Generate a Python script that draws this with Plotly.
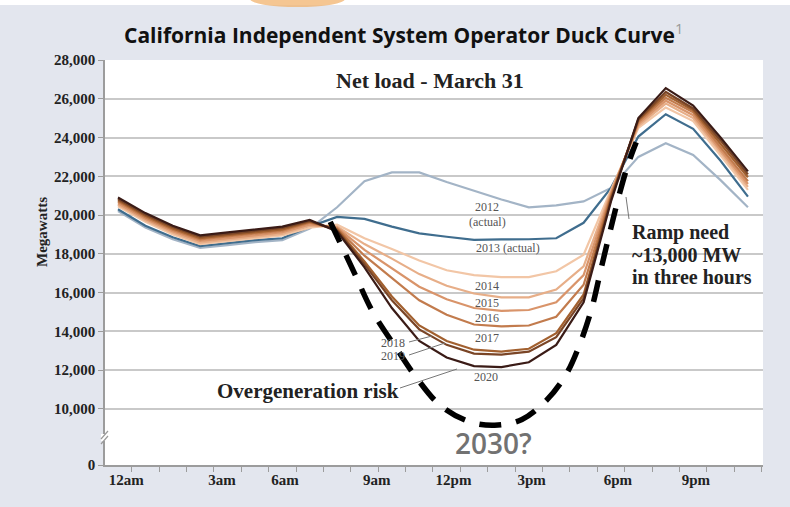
import plotly.graph_objects as go

# ---------------- data ----------------
hours = list(range(24))

hour_labels = ["12am", "3am", "6am", "9am", "12pm", "3pm", "6pm", "9pm"]
hour_label_pos = [0.3, 3.8, 6.1, 9.45, 12.25, 15.1, 18.25, 21.1]

y_tick_values = [7100, 10000, 12000, 14000, 16000, 18000, 20000, 22000, 24000, 26000, 28000]
y_tick_text = ["0", "10,000", "12,000", "14,000", "16,000", "18,000", "20,000",
               "22,000", "24,000", "26,000", "28,000"]

load_2012 = [20200, 19350, 18750, 18300, 18450, 18600, 18700, 19300, 20400, 21750, 22200, 22200,
             21700, 21250, 20800, 20400, 20500, 20700, 21400, 23000, 23700, 23100, 21800, 20400]
load_2013 = [20300, 19450, 18850, 18400, 18550, 18700, 18800, 19400, 19900, 19800, 19400, 19050,
             18880, 18720, 18740, 18750, 18800, 19600, 21400, 24050, 25200, 24450, 22800, 20950]
load_2014 = [20450, 19650, 19000, 18500, 18650, 18800, 18950, 19350, 19500, 18800, 18250, 17650,
             17150, 16900, 16800, 16800, 17100, 17950, 21300, 24500, 25550, 24850, 23050, 21300]
load_2015 = [20530, 19730, 19080, 18580, 18730, 18880, 19030, 19450, 19400, 18500, 17750, 16950,
             16350, 15950, 15750, 15750, 16150, 17350, 21200, 24600, 25750, 25000, 23200, 21450]
load_2016 = [20610, 19810, 19160, 18660, 18810, 18960, 19110, 19520, 19350, 18200, 17250, 16300,
             15650, 15200, 15050, 15100, 15500, 16900, 21100, 24700, 25900, 25150, 23350, 21600]
load_2017 = [20690, 19890, 19240, 18740, 18890, 19040, 19190, 19600, 19300, 17900, 16750, 15600,
             14850, 14350, 14250, 14300, 14750, 16400, 21000, 24800, 26050, 25300, 23500, 21750]
load_2018 = [20760, 19960, 19310, 18810, 18960, 19110, 19260, 19650, 19250, 17600, 15800, 14300,
             13500, 13050, 12950, 13100, 13900, 15900, 20900, 24900, 26200, 25400, 23700, 21950]
load_2019 = [20830, 20030, 19380, 18880, 19030, 19180, 19330, 19700, 19200, 17450, 15600, 14100,
             13300, 12850, 12800, 12950, 13700, 15700, 20800, 24950, 26350, 25500, 23850, 22100]
load_2020 = [20900, 20100, 19450, 18950, 19100, 19250, 19400, 19750, 19150, 17300, 15200, 13500,
             12650, 12200, 12150, 12400, 13300, 15500, 20700, 25000, 26550, 25650, 24000, 22250]

series_names = ["2012", "2013", "2014", "2015", "2016", "2017", "2018", "2019", "2020"]
series_values = [load_2012, load_2013, load_2014, load_2015, load_2016,
                 load_2017, load_2018, load_2019, load_2020]
series_colors = ["#a3b4c6", "#3f6d8e", "#f2c6a6", "#e7ae88", "#d9946a", "#c27b4d",
                 "#a2602f", "#7a4526", "#3a1b16"]

# hand-drawn "2030?" duck overlay (hour, MW)
overlay_hours = [7.75, 8.15, 8.65, 9.3, 10.15, 10.9, 11.75, 12.8, 13.75, 14.75, 15.65, 16.35,
                 16.85, 17.3, 17.65, 18.0, 18.33, 18.62, 18.92]
overlay_mw = [19650, 18450, 16950, 15000, 13150, 11600, 10200, 9350, 9150, 9450, 10450, 11750,
              13300, 15200, 17300, 19350, 21200, 22600, 23750]

# ---------------- figure ----------------
W, H = 790, 507
L, R, T, B = 105, 27, 60, 42
PW, PH = W - L - R, H - T - B


def px(x):
    return (x - L) / PW


def py(y):
    return (H - B - y) / PH


BG = "#e3e6ee"
GRID = "#c9c9c9"
AXIS = "#9c9c9c"
SERIF = "Liberation Serif"

fig = go.Figure()
for name, vals, col in zip(series_names, series_values, series_colors):
    fig.add_trace(go.Scatter(x=hours, y=vals, mode="lines", name=name,
                             line=dict(color=col, width=2.2), hoverinfo="skip"))

fig.add_trace(go.Scatter(x=overlay_hours, y=overlay_mw, mode="lines", name="2030?",
                         line=dict(color="#000000", width=5.5, dash="22px,15px", shape="spline"),
                         hoverinfo="skip"))

ann = []


def text(x, y, s, size, color="#222222", family=SERIF, xanchor="center", angle=0, weight=None):
    f = dict(family=family, size=size, color=color)
    if weight is not None:
        f["weight"] = weight
    ann.append(dict(x=px(x), y=py(y), xref="paper", yref="paper", text=s, showarrow=False,
                    xanchor=xanchor, yanchor="middle", textangle=angle, font=f))


text(403, 33, "<b>California Independent System Operator Duck Curve</b>"
     "<sup><span style='color:#999999'>1</span></sup>", 21, "#111111", "Open Sans")
text(430, 80, "<b>Net load - March 31</b>", 22)
text(42, 232, "<b>Megawatts</b>", 15, angle=-90)

small = "#555555"
text(487, 207, "2012", 12, small)
text(487, 222, "(actual)", 12, small)
text(508, 248, "2013 (actual)", 12, small)
text(487, 286, "2014", 12, small)
text(487, 303, "2015", 12, small)
text(487, 318, "2016", 12, small)
text(487, 338, "2017", 12, small)
text(393, 343, "2018", 12, small)
text(393, 356, "2019", 12, small)
text(486, 377, "2020", 12, small)

text(308, 391, "<b>Overgeneration risk</b>", 21)
text(630, 232, "<b>Ramp need</b>", 20, xanchor="left")
text(630, 255, "<b>~13,000 MW</b>", 20, xanchor="left")
text(630, 277, "<b>in three hours</b>", 20, xanchor="left")
text(493, 443, "2030?", 28, "#727272", "Open Sans", weight=600)

shapes = []


def seg(x0, y0, x1, y1, color="#777777", width=1):
    shapes.append(dict(type="line", xref="paper", yref="paper", x0=px(x0), y0=py(y0),
                       x1=px(x1), y1=py(y1), line=dict(color=color, width=width)))


# leader lines
seg(409, 342, 432, 336)
seg(409, 355, 445, 343)
seg(400, 388, 457, 369)
seg(626, 197, 629, 219)

# top white strip + orange glow artifact
shapes.append(dict(type="rect", xref="paper", yref="paper", x0=px(-5), x1=px(800),
                   y0=py(5), y1=py(-5), fillcolor="#ffffff", line=dict(width=0), layer="below"))
shapes.append(dict(type="circle", xref="paper", yref="paper", x0=px(250), x1=px(345),
                   y0=py(7), y1=py(-9), fillcolor="#f2b36e", opacity=0.75, line=dict(width=0)))

# axis break mark
shapes.append(dict(type="rect", xref="paper", yref="paper", x0=px(101), x1=px(109),
                   y0=py(441), y1=py(434), fillcolor="#ffffff", line=dict(width=0)))
seg(101, 444, 108, 436, "#9a9a9a", 1.2)
seg(101, 439, 108, 431, "#9a9a9a", 1.2)

fig.update_layout(
    width=W, height=H,
    margin=dict(l=L, r=R, t=T, b=B),
    paper_bgcolor=BG, plot_bgcolor="#ffffff",
    showlegend=False,
    annotations=ann, shapes=shapes,
    xaxis=dict(range=[-0.474, 23.55], tickmode="array", tickvals=hour_label_pos,
               ticktext=hour_labels, ticks="", showgrid=False, zeroline=False,
               showline=True, linecolor=AXIS, linewidth=1.5,
               tickfont=dict(family=SERIF, size=15, color="#222222", weight="bold"),
               minor=dict(tickmode="linear", tick0=-0.5, dtick=1, ticks="outside",
                          ticklen=5, tickcolor=AXIS, tickwidth=1, showgrid=False),
               fixedrange=True),
    yaxis=dict(range=[7100, 28000], tickmode="array", tickvals=y_tick_values,
               ticktext=y_tick_text, ticks="outside", ticklen=5, tickcolor=AXIS,
               showgrid=True, gridcolor=GRID, gridwidth=1.5, zeroline=False,
               showline=True, linecolor=AXIS, linewidth=1.5,
               tickfont=dict(family=SERIF, size=15, color="#222222", weight="bold"),
               fixedrange=True),
)

fig.write_html("out.html", config={"displayModeBar": False},
               post_script="document.body.style.margin='0px';")
